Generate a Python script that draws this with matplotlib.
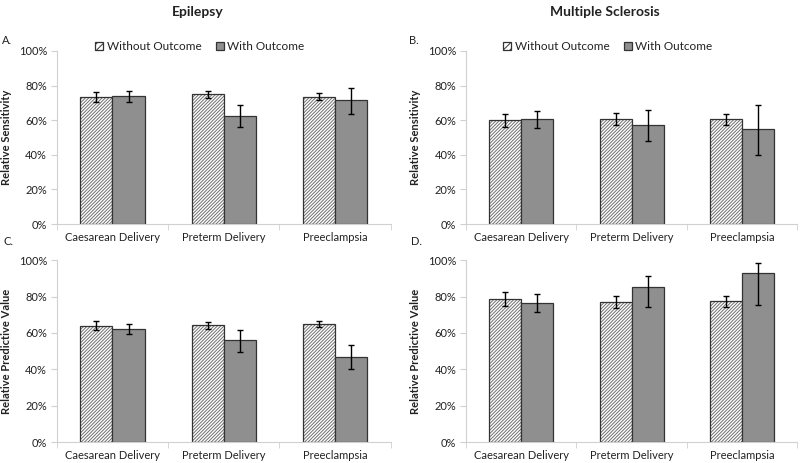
import matplotlib.pyplot as plt
import numpy as np
from matplotlib.patches import Patch
from matplotlib.ticker import PercentFormatter

plt.rcParams['font.family'] = ['Lato', 'DejaVu Sans']
plt.rcParams['hatch.linewidth'] = 0.7

categories = ['Caesarean Delivery', 'Preterm Delivery', 'Preeclampsia']
series_names = ['Without Outcome', 'With Outcome']

# A. Epilepsy - relative sensitivity (%), with 95% CI (low, high)
a_without = [73.4, 75.0, 73.6]
a_without_ci = [(70.7, 76.1), (72.8, 77.1), (71.7, 75.5)]
a_with = [73.8, 62.6, 71.9]
a_with_ci = [(70.3, 76.9), (56.3, 68.8), (63.4, 78.8)]

# B. Multiple sclerosis - relative sensitivity
b_without = [60.0, 60.7, 60.7]
b_without_ci = [(55.9, 63.8), (57.4, 63.9), (57.5, 63.6)]
b_with = [60.6, 57.3, 54.8]
b_with_ci = [(55.4, 65.4), (47.7, 66.0), (40.0, 68.8)]

# C. Epilepsy - relative predictive value
c_without = [64.1, 64.4, 64.9]
c_without_ci = [(61.4, 66.7), (62.4, 66.3), (63.1, 66.7)]
c_with = [62.2, 56.0, 46.9]
c_with_ci = [(59.3, 65.2), (49.4, 61.4), (40.0, 53.6)]

# D. Multiple sclerosis - relative predictive value
d_without = [78.9, 77.3, 77.6]
d_without_ci = [(75.1, 82.6), (73.8, 80.6), (74.3, 80.6)]
d_with = [76.7, 85.0, 93.0]
d_with_ci = [(71.4, 81.3), (74.2, 91.2), (75.6, 98.7)]

EDGE = '#333333'
HATCH_GRAY = '#707070'
SOLID = '#8f8f8f'
AXIS_GRAY = '#d0d0d0'
HATCH = '/' * 10


def yerr(values, ci):
    lo = [v - c[0] for v, c in zip(values, ci)]
    hi = [c[1] - v for v, c in zip(values, ci)]
    return np.array([lo, hi])


def draw_panel(ax, without, without_ci, with_, with_ci, ylabel, legend=False):
    x = np.arange(len(categories))
    w = 0.29
    err_kw = dict(ecolor='black', elinewidth=1, capsize=2, capthick=1)
    # hatched bars: gray hatch first, dark outline on top
    ax.bar(x - w / 2, without, w, color='white', edgecolor=HATCH_GRAY,
           hatch=HATCH, linewidth=0)
    ax.bar(x - w / 2, without, w, fill=False, edgecolor=EDGE, linewidth=0.9,
           yerr=yerr(without, without_ci), error_kw=err_kw)
    ax.bar(x + w / 2, with_, w, color=SOLID, edgecolor=EDGE,
           linewidth=0.9, yerr=yerr(with_, with_ci), error_kw=err_kw)

    ax.set_xlim(-0.5, len(categories) - 0.5)
    ax.set_ylim(0, 100)
    ax.set_yticks(np.arange(0, 101, 20))
    ax.yaxis.set_major_formatter(PercentFormatter(decimals=0))
    ax.set_xticks(x)
    ax.set_xticklabels(categories)
    ax.set_xticks(np.arange(-0.5, len(categories)), minor=True)
    ax.tick_params(axis='x', which='major', length=0, pad=6, labelsize=8,
                   labelcolor='#222222')
    ax.tick_params(axis='x', which='minor', length=4, color=AXIS_GRAY)
    ax.tick_params(axis='y', length=4, color=AXIS_GRAY, labelsize=8,
                   labelcolor='#222222', pad=3)
    for side in ['top', 'right']:
        ax.spines[side].set_visible(False)
    for side in ['left', 'bottom']:
        ax.spines[side].set_color(AXIS_GRAY)
    ax.set_ylabel(ylabel, fontsize=8, fontweight='bold', color='#222222')
    ax.yaxis.set_label_coords(-0.135, 0.5)

    if legend:
        handles = [
            Patch(facecolor='white', edgecolor=EDGE, hatch='/////',
                  linewidth=0.9, label=series_names[0]),
            Patch(facecolor=SOLID, edgecolor=EDGE, linewidth=0.9,
                  label=series_names[1]),
        ]
        ax.legend(handles=handles, loc='center', bbox_to_anchor=(0.428, 1.023),
                  ncol=2, frameon=False, fontsize=8.5, handlelength=0.7,
                  handleheight=0.7, handletextpad=0.3, columnspacing=1.2,
                  labelcolor='#222222')


fig = plt.figure(figsize=(8, 4.63), dpi=100)
ax_a = fig.add_axes([0.071, 0.516, 0.4175, 0.374])
ax_b = fig.add_axes([0.5825, 0.516, 0.414, 0.374])
ax_c = fig.add_axes([0.071, 0.045, 0.4175, 0.393])
ax_d = fig.add_axes([0.5825, 0.045, 0.414, 0.393])

draw_panel(ax_a, a_without, a_without_ci, a_with, a_with_ci,
           'Relative Sensitivity', legend=True)
draw_panel(ax_b, b_without, b_without_ci, b_with, b_with_ci,
           'Relative Sensitivity', legend=True)
draw_panel(ax_c, c_without, c_without_ci, c_with, c_with_ci,
           'Relative Predictive Value')
draw_panel(ax_d, d_without, d_without_ci, d_with, d_with_ci,
           'Relative Predictive Value')

fig.text(198 / 800, 1 - 12 / 463, 'Epilepsy', ha='center', va='center',
         fontsize=10, fontweight='bold', color='#222222')
fig.text(605 / 800, 1 - 12 / 463, 'Multiple Sclerosis', ha='center',
         va='center', fontsize=10, fontweight='bold', color='#222222')

for label, x, y in [('A.', 2, 40), ('B.', 409, 40), ('C.', 3, 242), ('D.', 411, 242)]:
    fig.text(x / 800, 1 - y / 463, label, ha='left', va='center',
             fontsize=8, color='#222222')

fig.savefig('out.png', dpi=100)
